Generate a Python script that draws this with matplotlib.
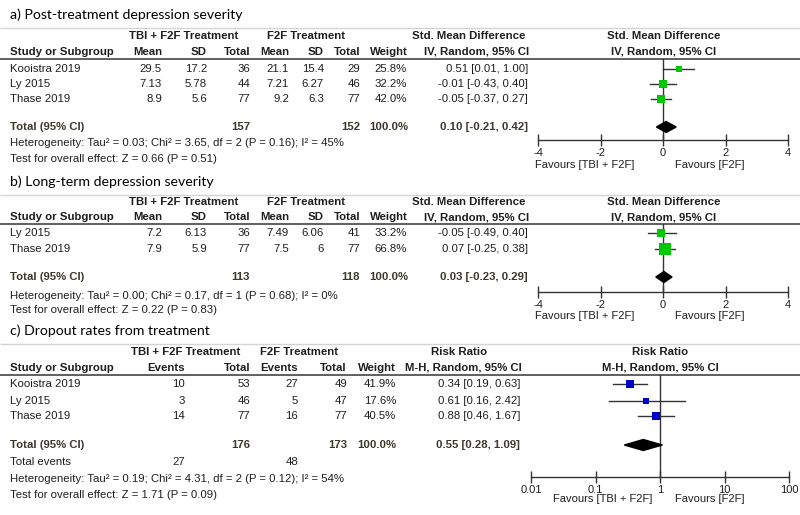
import matplotlib
matplotlib.use("Agg")
import matplotlib.pyplot as plt
import numpy as np

plt.rcParams['axes.unicode_minus'] = False

# ---------------- data ----------------
a_title = "a) Post-treatment depression severity"
a_studies = ["Kooistra 2019", "Ly 2015", "Thase 2019"]
a_tbi_mean = [29.5, 7.13, 8.9]
a_tbi_sd = [17.2, 5.78, 5.6]
a_tbi_n = [36, 44, 77]
a_f2f_mean = [21.1, 7.21, 9.2]
a_f2f_sd = [15.4, 6.27, 6.3]
a_f2f_n = [29, 46, 77]
a_weight = [25.8, 32.2, 42.0]
a_est = [0.51, -0.01, -0.05]
a_lo = [0.01, -0.43, -0.37]
a_hi = [1.00, 0.40, 0.27]
a_total = [0.10, -0.21, 0.42]
a_total_n = [157, 152]
a_het = "Heterogeneity: Tau² = 0.03; Chi² = 3.65, df = 2 (P = 0.16); I² = 45%"
a_test = "Test for overall effect: Z = 0.66 (P = 0.51)"

b_title = "b) Long-term depression severity"
b_studies = ["Ly 2015", "Thase 2019"]
b_tbi_mean = [7.2, 7.9]
b_tbi_sd = [6.13, 5.9]
b_tbi_n = [36, 77]
b_f2f_mean = [7.49, 7.5]
b_f2f_sd = [6.06, 6]
b_f2f_n = [41, 77]
b_weight = [33.2, 66.8]
b_est = [-0.05, 0.07]
b_lo = [-0.49, -0.25]
b_hi = [0.40, 0.38]
b_total = [0.03, -0.23, 0.29]
b_total_n = [113, 118]
b_het = "Heterogeneity: Tau² = 0.00; Chi² = 0.17, df = 1 (P = 0.68); I² = 0%"
b_test = "Test for overall effect: Z = 0.22 (P = 0.83)"

smd_ticks = [-4, -2, 0, 2, 4]

c_title = "c) Dropout rates from treatment"
c_studies = ["Kooistra 2019", "Ly 2015", "Thase 2019"]
c_tbi_events = [10, 3, 14]
c_tbi_n = [53, 46, 77]
c_f2f_events = [27, 5, 16]
c_f2f_n = [49, 47, 77]
c_weight = [41.9, 17.6, 40.5]
c_est = [0.34, 0.61, 0.88]
c_lo = [0.19, 0.16, 0.46]
c_hi = [0.63, 2.42, 1.67]
c_total = [0.55, 0.28, 1.09]
c_total_n = [176, 173]
c_total_events = [27, 48]
c_het = "Heterogeneity: Tau² = 0.19; Chi² = 4.31, df = 2 (P = 0.12); I² = 54%"
c_test = "Test for overall effect: Z = 1.71 (P = 0.09)"

rr_ticks = [0.01, 0.1, 1, 10, 100]

# ---------------- style ----------------
W, H = 800, 515
TF = "Liberation Sans"
FS = 8.2
TXT = "#1e1e1e"
TOT = "#3d382c"
GREEN = "#00c800"
BLUE = "#0000c8"
LINE = "#333333"

fig = plt.figure(figsize=(W / 100, H / 100), dpi=100)
bg = fig.add_axes([0, 0, 1, 1])
bg.set_xlim(0, W)
bg.set_ylim(H, 0)
bg.axis("off")


def t(x, y, s, ha="left", bold=False, color=TXT, size=FS, family=TF):
    bg.text(x, y, s, ha=ha, va="center", fontsize=size, family=family,
            fontweight="bold" if bold else "normal", color=color)


def hline(y, color, lw):
    bg.plot([0, W], [y, y], color=color, lw=lw, solid_capstyle="butt")


def fmt(v):
    return "{:g}".format(v)


def ci(e, l, h):
    return "{:.2f} [{:.2f}, {:.2f}]".format(e, l, h)


def forest(x0, x1, ytop, ybot, est, lo, hi, weights, rows, total, total_y,
           color, xlim, ticks, log=False, scale=1.35):
    ax = fig.add_axes([x0 / W, 1 - ybot / H, (x1 - x0) / W, (ybot - ytop) / H])
    ax.set_facecolor("none")
    if log:
        ax.set_xscale("log")
    ax.set_xlim(*xlim)
    ax.set_ylim(ybot, ytop)
    for s in ["top", "left", "right"]:
        ax.spines[s].set_visible(False)
    ax.spines["bottom"].set_color(LINE)
    ax.spines["bottom"].set_linewidth(1.0)
    ax.set_yticks([])
    ax.set_xticks(ticks)
    ax.set_xticklabels([fmt(v) for v in ticks])
    ax.xaxis.set_minor_locator(matplotlib.ticker.NullLocator())
    ax.tick_params(axis="x", direction="inout", length=8, width=1.0,
                   color=LINE, labelsize=8, labelcolor=TXT, pad=1.5)
    for lab in ax.get_xticklabels():
        lab.set_family(TF)
    null = 1 if log else 0
    ax.axvline(null, color=LINE, lw=1.0, zorder=1)
    for e, l, h, w, y in zip(est, lo, hi, weights, rows):
        ax.plot([l, h], [y, y], color=LINE, lw=1.0, zorder=2)
        ax.plot([e], [y], marker="s", ms=scale * np.sqrt(w) * 0.72,
                color=color, mec=color, mew=0, zorder=3)
    e, l, h = total
    hh = 5.5
    ax.fill([l, e, h, e], [total_y, total_y - hh, total_y, total_y + hh],
            color="black", zorder=4)
    return ax


# ---------------- panel a / b (continuous) ----------------
def panel_cont(title, ys, studies, m1, s1, n1, m2, s2, n2, wts, est, lo, hi, total,
               tn, het, test):
    (y_title, y_light, y_h1, y_h2, y_dark, rows, y_tot, y_het, y_test,
     y_axis, y_fav) = ys
    t(10, y_title, title, size=10.2, family="Lato", color="black")
    hline(y_light, "#d4d4d4", 1.0)
    hline(y_dark, "#444444", 1.2)
    t(184, y_h1, "TBI + F2F Treatment", ha="center", bold=True)
    t(306, y_h1, "F2F Treatment", ha="center", bold=True)
    t(469, y_h1, "Std. Mean Difference", ha="center", bold=True)
    t(664, y_h1, "Std. Mean Difference", ha="center", bold=True)
    t(10, y_h2, "Study or Subgroup", bold=True)
    for x, s in [(162, "Mean"), (207, "SD"), (250, "Total"), (289, "Mean"),
                 (324, "SD"), (360, "Total"), (408, "Weight")]:
        t(x, y_h2, s, ha="right", bold=True)
    t(477, y_h2, "IV, Random, 95% CI", ha="center", bold=True)
    t(664, y_h2, "IV, Random, 95% CI", ha="center", bold=True)
    for i, y in enumerate(rows):
        t(10, y, studies[i])
        t(162, y, fmt(m1[i]), ha="right")
        t(207, y, fmt(s1[i]), ha="right")
        t(250, y, fmt(n1[i]), ha="right")
        t(289, y, fmt(m2[i]), ha="right")
        t(324, y, fmt(s2[i]), ha="right")
        t(360, y, fmt(n2[i]), ha="right")
        t(407, y, "{:.1f}%".format(wts[i]), ha="right")
        t(528, y, ci(est[i], lo[i], hi[i]), ha="right")
    t(10, y_tot, "Total (95% CI)", bold=True, color=TOT)
    t(250, y_tot, fmt(tn[0]), ha="right", bold=True, color=TOT)
    t(360, y_tot, fmt(tn[1]), ha="right", bold=True, color=TOT)
    t(408, y_tot, "100.0%", ha="right", bold=True, color=TOT)
    t(528, y_tot, ci(*total), ha="right", bold=True, color=TOT)
    t(10, y_het, het)
    t(10, y_test, test)
    forest(538, 788, y_dark, y_axis, est, lo, hi, wts, rows, total, y_tot,
           GREEN, (-4, 4), smd_ticks)
    t(585, y_fav, "Favours [TBI + F2F]", ha="center", size=8)
    t(710, y_fav, "Favours [F2F]", ha="center", size=8)


panel_cont(a_title, (15, 28, 36, 52, 59, [68.5, 84, 99], 127, 143, 159, 140, 165),
           a_studies, a_tbi_mean, a_tbi_sd, a_tbi_n, a_f2f_mean, a_f2f_sd, a_f2f_n,
           a_weight, a_est, a_lo, a_hi, a_total, a_total_n, a_het, a_test)
panel_cont(b_title, (182, 195, 202, 217, 224, [232.5, 249], 277, 296, 310, 292, 316),
           b_studies, b_tbi_mean, b_tbi_sd, b_tbi_n, b_f2f_mean, b_f2f_sd, b_f2f_n,
           b_weight, b_est, b_lo, b_hi, b_total, b_total_n, b_het, b_test)

# ---------------- panel c (dichotomous) ----------------
t(10, 331, c_title, size=10.2, family="Lato", color="black")
hline(344, "#d4d4d4", 1.0)
hline(375, "#444444", 1.2)
t(185.5, 352, "TBI + F2F Treatment", ha="center", bold=True)
t(299, 352, "F2F Treatment", ha="center", bold=True)
t(459, 352, "Risk Ratio", ha="center", bold=True)
t(660, 352, "Risk Ratio", ha="center", bold=True)
t(10, 368, "Study or Subgroup", bold=True)
for x, s in [(185, "Events"), (250, "Total"), (298, "Events"), (347, "Total"),
             (396, "Weight")]:
    t(x, 368, s, ha="right", bold=True)
t(463, 368, "M-H, Random, 95% CI", ha="center", bold=True)
t(660, 368, "M-H, Random, 95% CI", ha="center", bold=True)
c_rows = [384, 400.5, 416]
for i, y in enumerate(c_rows):
    t(10, y, c_studies[i])
    t(185, y, fmt(c_tbi_events[i]), ha="right")
    t(250, y, fmt(c_tbi_n[i]), ha="right")
    t(298, y, fmt(c_f2f_events[i]), ha="right")
    t(347, y, fmt(c_f2f_n[i]), ha="right")
    t(396, y, "{:.1f}%".format(c_weight[i]), ha="right")
    t(520, y, ci(c_est[i], c_lo[i], c_hi[i]), ha="right")
t(10, 445, "Total (95% CI)", bold=True, color=TOT)
t(250, 445, fmt(c_total_n[0]), ha="right", bold=True, color=TOT)
t(347, 445, fmt(c_total_n[1]), ha="right", bold=True, color=TOT)
t(396, 445, "100.0%", ha="right", bold=True, color=TOT)
t(520, 445, ci(*c_total), ha="right", bold=True, color=TOT)
t(10, 462, "Total events")
t(185, 462, fmt(c_total_events[0]), ha="right")
t(298, 462, fmt(c_total_events[1]), ha="right")
t(10, 479, c_het)
t(10, 495, c_test)
forest(531, 789, 375, 477, c_est, c_lo, c_hi, c_weight, c_rows, c_total, 445,
       BLUE, (0.01, 100), rr_ticks, log=True)
t(603, 499, "Favours [TBI + F2F]", ha="center", size=8)
t(710, 499, "Favours [F2F]", ha="center", size=8)

fig.savefig("out.png", dpi=100)
